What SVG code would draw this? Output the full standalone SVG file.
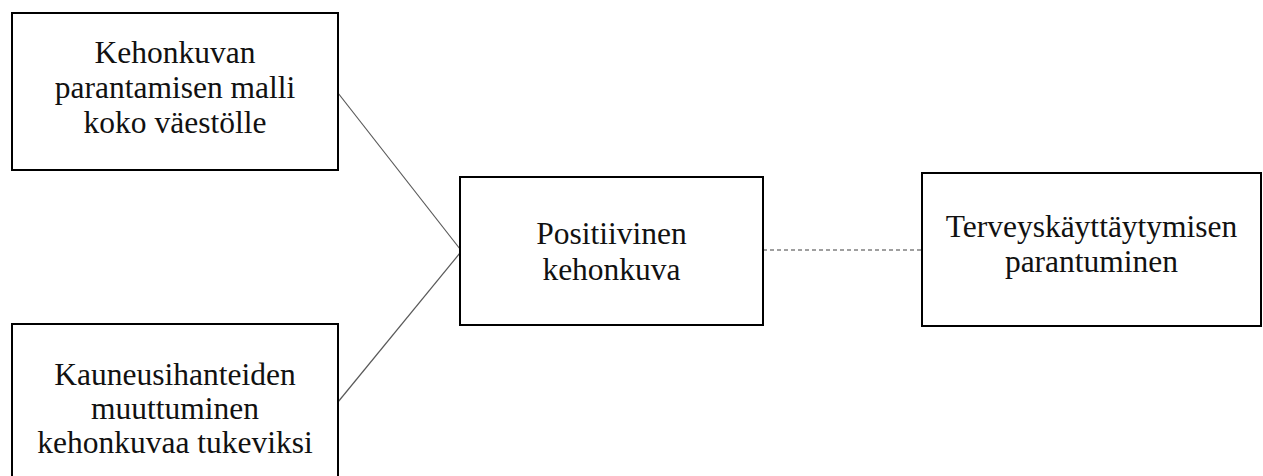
<svg xmlns="http://www.w3.org/2000/svg" width="1263" height="476" viewBox="0 0 1263 476">
  <style>
    .box { fill: #ffffff; stroke: #000000; stroke-width: 2; }
    .lbl { font-family: "Liberation Serif", "Times New Roman", serif; font-size: 31.5px; fill: #111111; text-anchor: middle; }
    .conn { stroke: #595959; stroke-width: 1.2; fill: none; }
    .dash { stroke: #404040; stroke-dasharray: 4 3; }
  </style>
  <rect x="0" y="0" width="1263" height="476" fill="#ffffff"/>
  <g id="connectors">
    <line class="conn" x1="338" y1="93" x2="460" y2="249"/>
    <line class="conn" x1="460" y1="253" x2="338" y2="402"/>
    <line class="conn dash" x1="763" y1="250" x2="922" y2="250"/>
  </g>
  <g id="node-malli">
    <rect class="box" x="12" y="13" width="326" height="157"/>
    <text class="lbl" x="175" y="63">Kehonkuvan</text>
    <text class="lbl" x="175" y="98">parantamisen malli</text>
    <text class="lbl" x="175" y="133">koko väestölle</text>
  </g>
  <g id="node-kauneus">
    <rect class="box" x="12" y="324" width="326" height="160"/>
    <text class="lbl" x="175" y="385">Kauneusihanteiden</text>
    <text class="lbl" x="175" y="419">muuttuminen</text>
    <text class="lbl" x="175" y="453">kehonkuvaa tukeviksi</text>
  </g>
  <g id="node-positiivinen">
    <rect class="box" x="460" y="177" width="303" height="148"/>
    <text class="lbl" x="611.5" y="244">Positiivinen</text>
    <text class="lbl" x="611.5" y="280">kehonkuva</text>
  </g>
  <g id="node-terveys">
    <rect class="box" x="922" y="173" width="339" height="153"/>
    <text class="lbl" x="1091.5" y="237">Terveyskäyttäytymisen</text>
    <text class="lbl" x="1091.5" y="272">parantuminen</text>
  </g>
</svg>
